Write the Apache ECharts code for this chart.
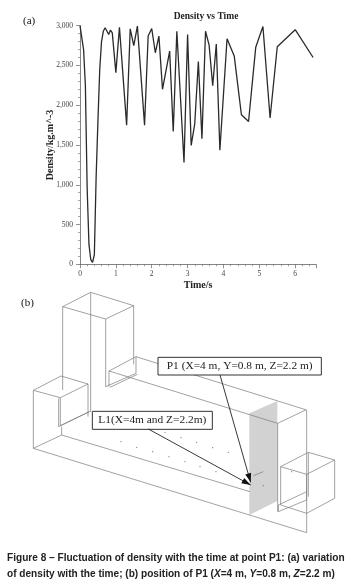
<!DOCTYPE html>
<html><head><meta charset="utf-8">
<style>html,body{margin:0;padding:0;background:#fff}#c{width:363px;height:587px;filter:blur(0.35px)}</style>
<script src="https://cdn.jsdelivr.net/npm/echarts@6/dist/echarts.min.js"></script>
</head><body><div id="c"></div>
<script>
const times=[0,0.05,0.1,0.15,0.2,0.25,0.3,0.35,0.4,0.45,0.5,0.55,0.6,0.65,0.7,0.75,0.8,0.85,0.9,1.0,1.1,1.3,1.4,1.5,1.6,1.8,1.9,2.0,2.1,2.2,2.3,2.5,2.6,2.7,2.9,3.0,3.1,3.2,3.3,3.4,3.5,3.6,3.7,3.8,3.9,4.1,4.3,4.5,4.7,4.9,5.1,5.3,5.5,6.0,6.5];
const density=[3000,2985,2700,2250,950,250,60,25,120,1100,1800,2450,2800,2930,2975,2960,2890,2945,2910,2410,2980,1750,2960,2750,2995,1750,2870,2965,2660,2870,2200,2680,1670,2930,1280,2890,1495,1770,2550,1580,2930,2755,2245,2770,1435,2835,2620,1880,1795,2730,2990,1840,2735,2950,2600];
const chartTitle='Density vs Time';
const xName='Time/s';
const yName='Density/kg.m^-3';
const captionLine1='Figure 8 – Fluctuation of density with the time at point P1: (a) variation';

// Wireframe of the illustration, in 3x-zoom units of the picture (y relative to 285)
const wire=[
 [[188,65],[272,22],[401,62],[317,102],[188,65]],
 [[188,65],[188,315]],[[272,22],[272,380]],[[317,102],[317,305]],[[401,62],[401,238]],
 [[100,316],[183,273],[264,297],[181,338],[100,316]],
 [[100,316],[100,490],[185,450],[185,425]],[[264,297],[264,395]],[[181,338],[181,422]],[[176,340],[176,425]],
 [[176,425],[272,378]],[[181,422],[268,380]],
 [[185,450],[750,620]],[[100,490],[920,743],[920,375],[408,215],[327,258],[833,415],[917,375]],
 [[833,415],[833,680]],[[327,258],[327,305]],[[408,215],[408,265]],[[317,305],[408,265]],[[330,307],[412,268]],
 [[842,545],[925,502],[1004,525],[920,568],[842,545]],
 [[842,545],[842,660],[920,685],[1004,640],[1004,525]],[[920,568],[920,645],[835,680],[835,660],[920,620]],[[925,502],[925,635]],
 [[760,572],[790,560]]
];
const panel=[[748,385],[832,348],[832,648],[748,690]];
const dots=[[363,470],[410,487],[458,500],[507,515],[555,530],[600,545],[648,560],[495,442],[543,458],[590,472],[638,488],[685,502],[790,602],[875,560]];
const arrows=[[[660,270],[752,592]],[[445,432],[752,600]]];
const boxes=[{r:[474,217,490,53],t:'P1 (X=4 m, Y=0.8 m, Z=2.2 m)'},{r:[277,379,360,54],t:'L1(X=4m and Z=2.2m)'}];

const px=p=>[p[0]/3,285+p[1]/3];
const serif='"Liberation Serif","Times New Roman",serif';
const sans='"Liberation Sans",Arial,sans-serif';
const g=[];
g.push({type:'polygon',shape:{points:panel.map(px)},style:{fill:'#d2d2d2'},z:1});
wire.forEach(l=>g.push({type:'polyline',shape:{points:l.map(px)},style:{stroke:'#7a7a7a',lineWidth:0.7,fill:null},z:2}));
dots.forEach(d=>{const p=px(d);g.push({type:'circle',shape:{cx:p[0],cy:p[1],r:0.7},style:{fill:'#888'},z:3});});
boxes.forEach(b=>{
  const [x,y]=px(b.r);
  g.push({type:'rect',shape:{x,y,width:b.r[2]/3,height:b.r[3]/3},style:{fill:'#fff',stroke:'#333',lineWidth:1},z:4});
  g.push({type:'text',style:{x:x+b.r[2]/6,y:y+b.r[3]/6,text:b.t,align:'center',verticalAlign:'middle',fontFamily:serif,fontSize:11.4,fill:'#222'},z:5});
});
arrows.forEach(a=>{
  const s=px(a[0]),e=px(a[1]);
  g.push({type:'polyline',shape:{points:[s,e]},style:{stroke:'#222',lineWidth:0.9,fill:null},z:6});
  const ang=Math.atan2(e[1]-s[1],e[0]-s[0]),L=9,W=3;
  const bx=e[0]-L*Math.cos(ang),by=e[1]-L*Math.sin(ang);
  g.push({type:'polygon',shape:{points:[e,[bx-W*Math.sin(ang),by+W*Math.cos(ang)],[bx+W*Math.sin(ang),by-W*Math.cos(ang)]]},style:{fill:'#111'},z:6});
});
g.push({type:'text',style:{x:23,y:21,text:'(a)',align:'left',verticalAlign:'middle',fontFamily:serif,fontSize:11,fill:'#111'}});
g.push({type:'text',style:{x:21,y:303,text:'(b)',align:'left',verticalAlign:'middle',fontFamily:serif,fontSize:11,fill:'#111'}});
g.push({type:'text',style:{x:7,y:558,text:captionLine1,align:'left',verticalAlign:'middle',fontFamily:sans,fontWeight:'bold',fontSize:10.1,fill:'#222'}});
g.push({type:'text',style:{x:7,y:574,align:'left',verticalAlign:'middle',
  text:'{b|of density with the time; (b) position of P1 (}{i|X}{b|=4 m, }{i|Y}{b|=0.8 m, }{i|Z}{b|=2.2 m)}',
  rich:{b:{fontFamily:sans,fontWeight:'bold',fontSize:10.1,fill:'#222'},i:{fontFamily:sans,fontWeight:'bold',fontStyle:'italic',fontSize:10.1,fill:'#222'}}}});

const chart=echarts.init(document.getElementById('c'),null,{renderer:'canvas'});
const axisC='#666';
chart.setOption({
  animation:false,
  title:{text:chartTitle,left:201,top:7,textAlign:'center',textStyle:{fontFamily:serif,fontWeight:'bold',fontSize:9.5,color:'#222'}},
  grid:{left:80,right:47,top:25.7,bottom:322.7,containLabel:false},
  xAxis:{type:'value',min:0,max:6.58,interval:1,offset:3,splitLine:{show:false},
    name:xName,nameLocation:'middle',nameGap:13,nameTextStyle:{fontFamily:serif,fontWeight:'bold',fontSize:10,color:'#222'},
    axisLine:{show:true,lineStyle:{color:axisC,width:0.8}},
    axisTick:{show:true,length:4,lineStyle:{color:axisC,width:0.7}},
    minorTick:{show:true,splitNumber:5,length:2,lineStyle:{color:axisC,width:0.6}},
    axisLabel:{margin:3,showMaxLabel:false,fontFamily:serif,fontSize:7.5,color:'#444'}},
  yAxis:{type:'value',min:0,max:3000,interval:500,offset:3,splitLine:{show:false},
    name:yName,nameLocation:'middle',nameGap:22,nameMoveOverlap:false,nameRotate:90,nameTextStyle:{fontFamily:serif,fontWeight:'bold',fontSize:10,color:'#222'},
    axisLine:{show:true,lineStyle:{color:axisC,width:0.8}},
    axisTick:{show:true,length:4,lineStyle:{color:axisC,width:0.7}},
    minorTick:{show:true,splitNumber:5,length:2,lineStyle:{color:axisC,width:0.6}},
    axisLabel:{margin:4,fontFamily:serif,fontSize:7.5,color:'#444',formatter:v=>v.toLocaleString('en-US')}},
  series:[{type:'line',data:times.map((t,i)=>[t,density[i]]),showSymbol:false,smooth:false,clip:false,
    lineStyle:{color:'#2a2a2a',width:1.3}}],
  graphic:{elements:g}
});
</script></body></html>
